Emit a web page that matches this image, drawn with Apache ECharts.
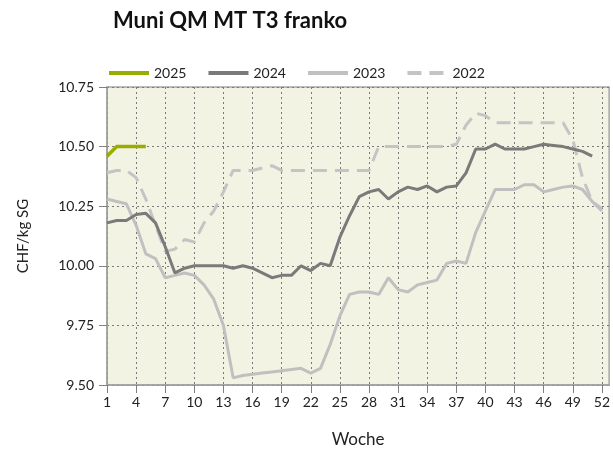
<!DOCTYPE html>
<html>
<head>
<meta charset="utf-8">
<script src="https://cdn.jsdelivr.net/npm/echarts@6/dist/echarts.min.js"></script>
<style>
html,body{margin:0;padding:0;background:#fff;}
#chart{width:613px;height:454px;}
</style>
</head>
<body>
<div id="chart"></div>
<script>
const weeks = Array.from({length: 52}, (_, i) => i + 1);
const tickWeeks = [1, 4, 7, 10, 13, 16, 19, 22, 25, 28, 31, 34, 37, 40, 43, 46, 49, 52];
const yTicks = [9.50, 9.75, 10.00, 10.25, 10.50, 10.75];

const v2025 = [10.46, 10.50, 10.50, 10.50, 10.50];
const v2024 = [10.18, 10.19, 10.19, 10.215, 10.22, 10.18, 10.08, 9.97, 9.99, 10.00,
  10.00, 10.00, 10.00, 9.99, 10.00, 9.99, 9.97, 9.95, 9.96, 9.96,
  10.00, 9.98, 10.01, 10.00, 10.12, 10.21, 10.29, 10.31, 10.32, 10.28,
  10.31, 10.33, 10.32, 10.335, 10.31, 10.33, 10.335, 10.39, 10.49, 10.49,
  10.51, 10.49, 10.49, 10.49, 10.50, 10.51, 10.505, 10.50, 10.49, 10.48,
  10.46];
const v2023 = [10.28, 10.27, 10.26, 10.17, 10.05, 10.03, 9.95, 9.96, 9.97, 9.96,
  9.92, 9.86, 9.75, 9.53, 9.54, 9.545, 9.55, 9.555, 9.56, 9.565,
  9.57, 9.55, 9.57, 9.67, 9.79, 9.88, 9.89, 9.89, 9.88, 9.95,
  9.90, 9.89, 9.92, 9.93, 9.94, 10.01, 10.02, 10.01, 10.14, 10.23,
  10.32, 10.32, 10.32, 10.34, 10.34, 10.31, 10.32, 10.33, 10.335, 10.32,
  10.27, 10.23];
const v2022 = [10.39, 10.40, 10.40, 10.37, 10.28, 10.17, 10.06, 10.07, 10.11, 10.10,
  10.18, 10.23, 10.31, 10.40, 10.40, 10.40, 10.41, 10.42, 10.40, 10.40,
  10.40, 10.40, 10.40, 10.40, 10.40, 10.40, 10.40, 10.40, 10.50, 10.50,
  10.50, 10.50, 10.50, 10.50, 10.50, 10.50, 10.51, 10.59, 10.64, 10.63,
  10.60, 10.60, 10.60, 10.60, 10.60, 10.60, 10.60, 10.60, 10.53, 10.37,
  10.27, 10.24];

const pairs = arr => arr.map((v, i) => [weeks[i], v]);
const FONT = 'Lato';

const chart = echarts.init(document.getElementById('chart'), null, {renderer: 'canvas'});
chart.setOption({
  animation: false,
  backgroundColor: '#ffffff',
  textStyle: {fontFamily: FONT},
  title: {
    text: 'Muni QM MT T3 franko',
    left: 108, top: 5,
    textStyle: {fontFamily: FONT, fontSize: 22, fontWeight: 'bold', color: '#111'}
  },
  legend: {
    left: 102, top: 61,
    itemWidth: 40, itemHeight: 14, itemGap: 20,
    textStyle: {fontFamily: FONT, fontSize: 14, color: '#222'},
    lineStyle: {width: 4},
    itemStyle: {opacity: 0},
    data: ['2025', '2024', '2023', '2022']
  },
  grid: {
    left: 107, right: 3, top: 87, bottom: 69,
    show: true, backgroundColor: '#f3f3e3', borderColor: '#a8a8a8', borderWidth: 1.5
  },
  xAxis: {
    type: 'value', min: 1, max: 52.75,
    name: 'Woche', nameLocation: 'middle', nameGap: 46,
    nameTextStyle: {fontFamily: FONT, fontSize: 17, color: '#222'},
    axisLine: {show: true, lineStyle: {color: '#a0a0a0', width: 1.5}},
    axisTick: {show: true, length: 8, customValues: tickWeeks, lineStyle: {color: '#808080'}},
    axisLabel: {customValues: tickWeeks, fontFamily: FONT, fontSize: 14, color: '#222', margin: 10},
    splitLine: {show: true, lineStyle: {color: '#7a7a7a', type: [2, 3], width: 1}}
  },
  yAxis: {
    type: 'value', min: 9.5, max: 10.75, interval: 0.25,
    name: 'CHF/kg SG', nameLocation: 'middle', nameGap: 76,
    nameTextStyle: {fontFamily: FONT, fontSize: 15, color: '#222'},
    axisLine: {show: true, lineStyle: {color: '#a0a0a0', width: 1.5}},
    axisTick: {show: true, length: 8, lineStyle: {color: '#808080'}},
    axisLabel: {fontFamily: FONT, fontSize: 14, color: '#222', margin: 13,
      formatter: v => v.toFixed(2)},
    splitLine: {show: true, lineStyle: {color: '#7a7a7a', type: [2, 3], width: 1}}
  },
  series: [
    {name: '2022', type: 'line', data: pairs(v2022), symbol: 'none', z: 2,
     lineStyle: {color: '#c4c4c4', width: 3, type: [14, 8]}, itemStyle: {color: '#c4c4c4'}},
    {name: '2023', type: 'line', data: pairs(v2023), symbol: 'none', z: 3,
     lineStyle: {color: '#c0c0c0', width: 3}, itemStyle: {color: '#c0c0c0'}},
    {name: '2024', type: 'line', data: pairs(v2024), symbol: 'none', z: 4,
     lineStyle: {color: '#7a7a7a', width: 3}, itemStyle: {color: '#7a7a7a'}},
    {name: '2025', type: 'line', data: pairs(v2025), symbol: 'none', z: 5,
     lineStyle: {color: '#98ad00', width: 3.5}, itemStyle: {color: '#98ad00'}}
  ]
});
</script>
</body>
</html>
